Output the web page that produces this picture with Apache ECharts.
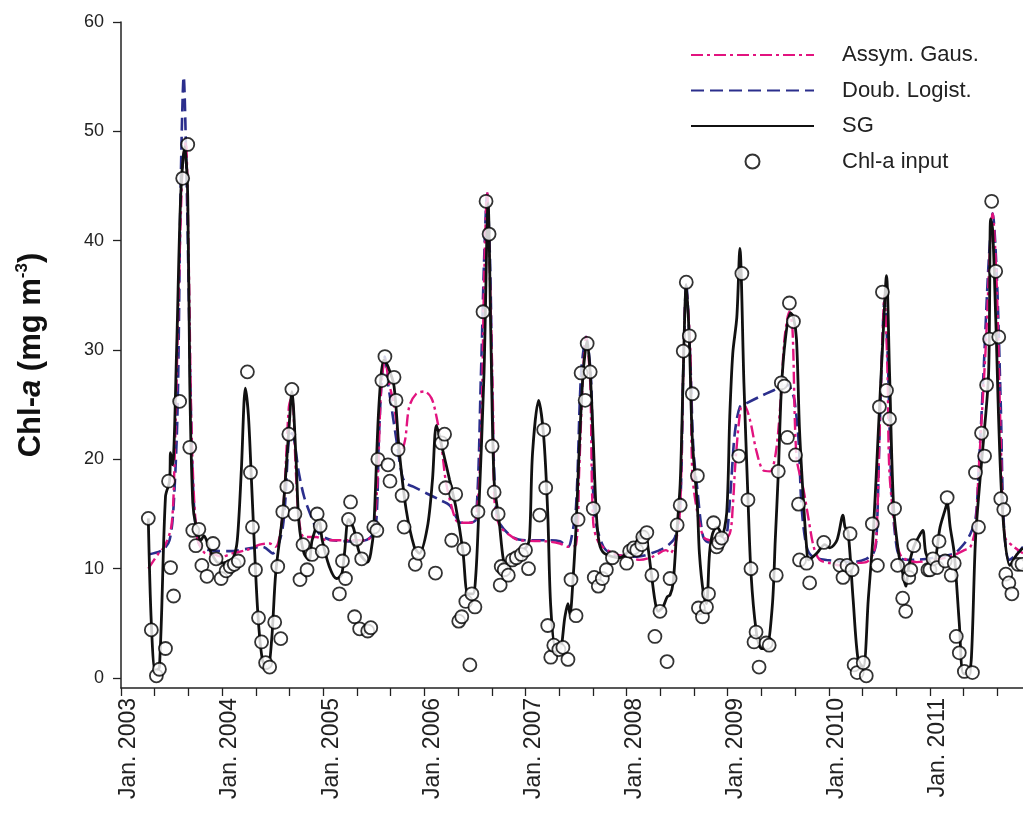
<!DOCTYPE html>
<html><head><meta charset="utf-8">
<script src="https://cdn.jsdelivr.net/npm/echarts@6/dist/echarts.min.js"></script>
<style>html,body{margin:0;padding:0;background:#fff}#c{width:1023px;height:814px}</style>
</head><body><div id="c"></div>
<script>
const yearTicks = [2003,2004,2005,2006,2007,2008,2009,2010,2011];
const yTicks = [0,10,20,30,40,50,60];

const chlInput = [
[2003.27,14.6],[2003.30,4.4],[2003.35,0.2],[2003.38,0.8],[2003.44,2.7],[2003.47,18.0],[2003.49,10.1],[2003.52,7.5],[2003.58,25.3],[2003.61,45.7],[2003.66,48.8],[2003.68,21.1],[2003.71,13.5],[2003.74,12.1],[2003.77,13.6],[2003.80,10.3],[2003.85,9.3],[2003.91,12.3],[2003.94,10.9],[2003.99,9.1],
[2004.04,9.8],[2004.08,10.2],[2004.12,10.4],[2004.16,10.7],[2004.25,28.0],[2004.28,18.8],[2004.30,13.8],[2004.33,9.9],[2004.36,5.5],[2004.39,3.3],[2004.43,1.4],[2004.47,1.0],[2004.52,5.1],[2004.55,10.2],[2004.58,3.6],[2004.60,15.2],[2004.64,17.5],[2004.66,22.3],[2004.69,26.4],[2004.72,15.0],[2004.77,9.0],[2004.80,12.2],[2004.84,9.9],[2004.89,11.3],[2004.94,15.0],[2004.97,13.9],[2004.99,11.6],
[2005.16,7.7],[2005.19,10.7],[2005.22,9.1],[2005.25,14.5],[2005.27,16.1],[2005.31,5.6],[2005.33,12.7],[2005.36,4.5],[2005.38,10.9],[2005.44,4.3],[2005.47,4.6],[2005.50,13.8],[2005.53,13.5],[2005.54,20.0],[2005.58,27.2],[2005.61,29.4],[2005.64,19.5],[2005.66,18.0],[2005.70,27.5],[2005.72,25.4],[2005.74,20.9],[2005.78,16.7],[2005.80,13.8],[2005.91,10.4],[2005.94,11.4],
[2006.11,9.6],[2006.17,21.5],[2006.20,22.3],[2006.21,17.4],[2006.27,12.6],[2006.31,16.8],[2006.34,5.2],[2006.37,5.6],[2006.39,11.8],[2006.41,7.0],[2006.45,1.2],[2006.47,7.7],[2006.50,6.5],[2006.53,15.2],[2006.58,33.5],[2006.61,43.6],[2006.64,40.6],[2006.67,21.2],[2006.69,17.0],[2006.73,15.0],[2006.75,8.5],[2006.76,10.2],[2006.79,9.9],[2006.83,9.4],[2006.87,10.8],[2006.91,11.0],[2006.96,11.3],
[2007.00,11.7],[2007.03,10.0],[2007.14,14.9],[2007.18,22.7],[2007.20,17.4],[2007.22,4.8],[2007.25,1.9],[2007.28,3.0],[2007.33,2.6],[2007.37,2.8],[2007.42,1.7],[2007.45,9.0],[2007.50,5.7],[2007.52,14.5],[2007.55,27.9],[2007.59,25.4],[2007.61,30.6],[2007.64,28.0],[2007.67,15.5],[2007.68,9.2],[2007.72,8.4],[2007.76,9.1],[2007.80,9.9],[2007.86,11.0],
[2008.00,10.5],[2008.03,11.6],[2008.07,11.9],[2008.10,11.7],[2008.15,12.2],[2008.16,12.9],[2008.20,13.3],[2008.25,9.4],[2008.28,3.8],[2008.33,6.1],[2008.40,1.5],[2008.43,9.1],[2008.50,14.0],[2008.53,15.8],[2008.56,29.9],[2008.59,36.2],[2008.62,31.3],[2008.65,26.0],[2008.70,18.5],[2008.71,6.4],[2008.75,5.6],[2008.79,6.5],[2008.81,7.7],[2008.86,14.2],[2008.89,12.0],[2008.91,12.4],[2008.94,12.8],
[2009.11,20.3],[2009.14,37.0],[2009.20,16.3],[2009.23,10.0],[2009.26,3.3],[2009.28,4.2],[2009.31,1.0],[2009.38,3.2],[2009.41,3.0],[2009.48,9.4],[2009.50,18.9],[2009.53,27.0],[2009.56,26.7],[2009.59,22.0],[2009.61,34.3],[2009.65,32.6],[2009.67,20.4],[2009.70,15.9],[2009.71,10.8],[2009.78,10.5],[2009.81,8.7],[2009.95,12.4],
[2010.11,10.3],[2010.14,9.2],[2010.18,10.3],[2010.21,13.2],[2010.23,9.9],[2010.25,1.2],[2010.28,0.5],[2010.34,1.4],[2010.37,0.2],[2010.43,14.1],[2010.48,10.3],[2010.50,24.8],[2010.53,35.3],[2010.57,26.3],[2010.60,23.7],[2010.65,15.5],[2010.68,10.3],[2010.73,7.3],[2010.76,6.1],[2010.79,9.2],[2010.81,9.9],[2010.84,12.1],[2010.98,9.9],
[2011.00,9.9],[2011.03,10.9],[2011.07,10.1],[2011.09,12.5],[2011.15,10.7],[2011.17,16.5],[2011.21,9.4],[2011.24,10.5],[2011.26,3.8],[2011.29,2.3],[2011.34,0.6],[2011.42,0.5],[2011.45,18.8],[2011.48,13.8],[2011.51,22.4],[2011.54,20.3],[2011.56,26.8],[2011.59,31.0],[2011.61,43.6],[2011.65,37.2],[2011.68,31.2],[2011.70,16.4],[2011.73,15.4],[2011.75,9.5],[2011.78,8.7],[2011.81,7.7],[2011.87,10.4],[2011.91,10.4]
];

const sgCurve = [
[2003.27,14.6],[2003.30,5.0],[2003.34,0.6],[2003.38,1.0],[2003.44,16.6],[2003.48,18.0],[2003.49,20.6],[2003.51,19.5],[2003.55,30],[2003.59,44],[2003.63,48.6],[2003.66,44],[2003.68,27],[2003.71,16],[2003.74,14.0],[2003.79,12.6],[2003.82,13.0],[2003.85,12.5],[2003.89,11.5],[2003.97,10.5],
[2004.05,10.6],[2004.11,11.0],[2004.15,12.6],[2004.19,19],[2004.23,26.5],[2004.26,24],[2004.29,18.1],[2004.33,9.9],[2004.36,5.0],[2004.40,1.6],[2004.45,0.9],[2004.49,3.5],[2004.53,9.6],[2004.60,15.1],[2004.66,22.7],[2004.69,26.2],[2004.73,20.2],[2004.76,14.2],[2004.81,11.4],[2004.86,10.8],[2004.89,12.6],[2004.96,14.3],[2004.99,12.6],
[2005.06,10.2],[2005.13,9.1],[2005.18,9.4],[2005.21,11.4],[2005.25,14.5],[2005.30,13.7],[2005.36,11.4],[2005.44,10.6],[2005.47,11.4],[2005.50,13.8],[2005.55,24.8],[2005.60,29.1],[2005.64,28.5],[2005.70,26.7],[2005.75,20.9],[2005.82,15.4],[2005.90,12.0],[2005.95,11.4],
[2006.03,13.8],[2006.08,18.1],[2006.12,23.1],[2006.18,20.9],[2006.25,18.1],[2006.31,15.7],[2006.38,11.7],[2006.43,7.7],[2006.48,7.7],[2006.51,9.6],[2006.54,15.7],[2006.59,27.9],[2006.63,43.4],[2006.66,30],[2006.69,18],[2006.74,14.3],[2006.78,10.9],[2006.81,10.3],[2006.89,11.0],
[2007.01,12.0],[2007.04,12.8],[2007.07,20.6],[2007.13,25.4],[2007.18,22.1],[2007.22,15.1],[2007.25,6.5],[2007.30,2.6],[2007.34,2.6],[2007.39,5.6],[2007.42,6.8],[2007.44,5.8],[2007.47,9.0],[2007.50,13.8],[2007.53,20.6],[2007.57,27.9],[2007.61,30.8],[2007.64,27.9],[2007.67,21.8],[2007.70,15.1],[2007.73,12.3],[2007.78,11.4],[2007.93,11.0],
[2008.00,11.4],[2008.10,12.5],[2008.16,13.4],[2008.19,13.2],[2008.24,9.9],[2008.28,7.1],[2008.31,6.1],[2008.36,6.5],[2008.40,7.4],[2008.43,7.6],[2008.46,8.7],[2008.49,12.6],[2008.53,17.8],[2008.56,27.9],[2008.59,36.0],[2008.62,31],[2008.65,21.8],[2008.70,15.7],[2008.72,11.4],[2008.76,7.7],[2008.79,6.8],[2008.82,11.4],[2008.85,13.2],[2008.89,13.8],[2008.92,13.5],[2008.94,12.9],[2008.99,15.1],
[2009.02,23.9],[2009.05,29.7],[2009.09,33],[2009.12,39.3],[2009.16,27],[2009.20,16.5],[2009.23,9.6],[2009.28,4.4],[2009.33,2.7],[2009.38,2.7],[2009.44,6.5],[2009.47,12.6],[2009.50,18.7],[2009.53,26.3],[2009.57,31],[2009.62,33.4],[2009.65,33.0],[2009.68,31],[2009.71,22.7],[2009.75,16],[2009.78,12.0],[2009.80,10.8],[2009.88,11.4],[2009.96,12.2],
[2010.01,11.9],[2010.08,12.6],[2010.14,14.9],[2010.16,13.8],[2010.19,13.4],[2010.24,7.2],[2010.29,1.6],[2010.34,1.0],[2010.39,7.2],[2010.44,13.4],[2010.49,22.7],[2010.54,32],[2010.57,36.8],[2010.60,28],[2010.64,15.7],[2010.69,11.4],[2010.73,9.6],[2010.76,8.4],[2010.79,10.2],[2010.84,12.0],[2010.90,13.1],[2010.93,13.5],[2010.96,11.4],
[2011.03,10.2],[2011.10,13.8],[2011.15,15.4],[2011.17,16.0],[2011.20,13.8],[2011.24,11.4],[2011.29,5.0],[2011.33,0.4],[2011.38,0.4],[2011.41,1.9],[2011.45,12.6],[2011.50,18.7],[2011.53,21.8],[2011.58,27.9],[2011.60,42.0],[2011.62,41],[2011.65,33],[2011.71,16.5],[2011.79,10.3],[2011.86,11.3],[2011.92,11.9]
];

const doubLogist = [
[2003.27,11.3],[2003.41,11.7],[2003.48,12.6],[2003.52,15.7],[2003.56,24.8],[2003.59,45],[2003.62,55],[2003.65,45],[2003.69,25],[2003.72,16.1],[2003.77,12.3],[2003.87,11.7],
[2004.07,11.6],[2004.30,11.9],[2004.40,12.0],[2004.50,11.4],[2004.60,13.8],[2004.66,21.8],[2004.69,22.4],[2004.76,18.7],[2004.81,16.6],[2004.88,14.8],[2004.96,13.2],
[2005.09,12.6],[2005.36,12.5],[2005.46,12.8],[2005.52,13.8],[2005.55,21.8],[2005.58,27.5],[2005.61,29.4],[2005.64,27],[2005.72,22],[2005.78,18.5],[2005.82,17.8],[2005.89,17.5],
[2006.02,16.9],[2006.15,16.3],[2006.25,15.8],[2006.31,14.8],[2006.36,14.2],[2006.45,14.2],[2006.51,14.5],[2006.56,27.9],[2006.59,38],[2006.62,44.3],[2006.65,38],[2006.68,22],[2006.71,15.5],[2006.74,14.2],[2006.87,12.9],
[2007.01,12.6],[2007.21,12.6],[2007.34,12.5],[2007.42,12.0],[2007.45,12.6],[2007.50,15.7],[2007.55,27.9],[2007.60,31.2],[2007.65,27],[2007.68,15.1],[2007.77,12.0],[2007.87,11.3],
[2008.10,11.1],[2008.33,11.7],[2008.43,12.3],[2008.48,12.9],[2008.53,15.7],[2008.56,28],[2008.59,36],[2008.63,29],[2008.66,21],[2008.70,17.2],[2008.75,13.2],[2008.79,12.5],[2008.89,12.3],[2008.97,12.6],
[2009.00,13.8],[2009.04,18.7],[2009.07,22.4],[2009.12,24.8],[2009.18,25.1],[2009.31,25.7],[2009.45,26.3],[2009.55,26.7],[2009.60,26.8],[2009.63,26.3],[2009.66,25.4],[2009.70,21.8],[2009.73,15.7],[2009.78,12.0],[2009.84,11.1],[2009.98,10.8],
[2010.24,10.6],[2010.37,10.9],[2010.44,11.4],[2010.47,12.6],[2010.50,21.8],[2010.53,31],[2010.55,34.5],[2010.58,30],[2010.62,17.2],[2010.67,12.0],[2010.72,10.9],[2010.84,10.8],
[2011.10,11.1],[2011.24,11.4],[2011.34,12.3],[2011.40,13.2],[2011.45,14.5],[2011.48,18.7],[2011.53,28],[2011.58,38],[2011.62,42.5],[2011.66,37],[2011.70,25],[2011.73,14.2],[2011.78,10.8],[2011.83,11.1],[2011.92,12.0]
];

const assymGaus = [
[2003.27,10.0],[2003.38,11.5],[2003.43,12.0],[2003.50,14],[2003.53,20],[2003.57,35],[2003.61,47],[2003.64,49],[2003.67,38],[2003.70,22],[2003.75,13],[2003.82,11.5],[2003.92,11.3],
[2004.00,11.1],[2004.10,11.4],[2004.24,11.7],[2004.37,12.2],[2004.47,12.3],[2004.53,12.0],[2004.60,15.1],[2004.66,24.8],[2004.69,25.8],[2004.73,18.7],[2004.76,14.5],[2004.81,12.9],[2004.93,12.9],
[2005.03,12.6],[2005.42,12.6],[2005.49,13.2],[2005.54,18.7],[2005.57,26],[2005.61,29.2],[2005.65,27],[2005.70,25],[2005.77,20.6],[2005.81,21.8],[2005.85,24.8],[2005.92,26.0],
[2006.00,26.2],[2006.07,25.6],[2006.12,23.9],[2006.17,21.2],[2006.21,18.1],[2006.26,16.0],[2006.31,14.5],[2006.35,14.2],[2006.45,14.2],[2006.51,14.5],[2006.56,21.8],[2006.59,36],[2006.62,44.5],[2006.65,36],[2006.68,24],[2006.69,16.8],[2006.74,14.0],[2006.87,12.9],[2006.94,12.6],
[2007.21,12.5],[2007.34,12.3],[2007.42,12.0],[2007.50,12.2],[2007.53,18.7],[2007.57,28],[2007.60,31.2],[2007.64,27],[2007.67,14.2],[2007.73,12.3],[2007.87,11.4],
[2008.00,11.1],[2008.13,10.8],[2008.26,11.1],[2008.39,11.7],[2008.43,11.4],[2008.49,12.6],[2008.53,15.7],[2008.56,28],[2008.59,35.5],[2008.63,30],[2008.65,18.7],[2008.70,15.1],[2008.76,12.9],[2008.82,12.6],[2008.94,12.5],
[2009.02,13.2],[2009.05,15.7],[2009.08,20.2],[2009.13,24.8],[2009.16,25.0],[2009.22,23.6],[2009.28,20.9],[2009.35,19.0],[2009.42,18.9],[2009.48,20.9],[2009.53,26.3],[2009.56,30.9],[2009.61,33.5],[2009.64,32],[2009.68,20.2],[2009.75,17.2],[2009.80,14.5],[2009.85,12.0],[2009.91,10.8],
[2010.01,10.5],[2010.11,10.3],[2010.24,10.5],[2010.37,10.6],[2010.44,11.4],[2010.47,12.9],[2010.50,21.8],[2010.53,31],[2010.55,35],[2010.58,28],[2010.60,18.7],[2010.67,12.6],[2010.72,11.1],[2010.87,10.6],
[2011.03,10.8],[2011.20,11.1],[2011.34,11.7],[2011.40,12.0],[2011.45,13.8],[2011.48,18.7],[2011.55,30],[2011.62,42.5],[2011.66,36],[2011.70,22],[2011.74,12.9],[2011.83,12.0],[2011.92,11.4]
];

const FONT = 'Liberation Sans';
const xTickVals = [];
yearTicks.forEach(function (y) { xTickVals.push(y, y + 1/3, y + 2/3); });

const chart = echarts.init(document.getElementById('c'), null, {renderer: 'canvas'});
chart.setOption({
  animation: false,
  backgroundColor: '#fff',
  grid: {left: 121, right: 0, top: 22, bottom: 126, containLabel: false},
  legend: {
    orient: 'vertical', left: 685, top: 39,
    itemWidth: 123, itemHeight: 14, itemGap: 13.5,
    data: [
      {name: 'Assym. Gaus.', itemStyle: {opacity: 0}},
      {name: 'Doub. Logist.', itemStyle: {opacity: 0}},
      {name: 'SG', itemStyle: {opacity: 0}},
      {name: 'Chl-a input'}
    ],
    textStyle: {fontFamily: FONT, fontSize: 22, color: '#222', padding: [0, 0, 0, 23]}
  },
  xAxis: {
    type: 'value', min: 2003, max: 2011.92, interval: 1,
    axisLine: {onZero: false, lineStyle: {color: '#222', width: 1.5}},
    axisTick: {customValues: xTickVals, length: 8, lineStyle: {color: '#222', width: 1.3}},
    axisLabel: {
      customValues: yearTicks, rotate: 90, verticalAlign: 'top', margin: 10,
      fontFamily: FONT, fontSize: 23, color: '#222', lineHeight: 16,
      formatter: function (v) { return 'Jan. ' + Math.round(v); }
    },
    splitLine: {show: false}
  },
  yAxis: {
    type: 'value', min: -0.915, max: 60,
    axisLine: {show: true, onZero: false, lineStyle: {color: '#222', width: 1.5}},
    axisTick: {show: true, customValues: yTicks, length: 8, lineStyle: {color: '#222', width: 1.3}},
    axisLabel: {customValues: yTicks, margin: 17, fontFamily: FONT, fontSize: 18, color: '#222'},
    splitLine: {show: false},
    name: '{b|Chl-}{bi|a}{b| (mg m}{s|-3}{b|)}',
    nameLocation: 'middle', nameRotate: 90, nameGap: 73,
    nameTextStyle: {
      rich: {
        b: {fontFamily: FONT, fontWeight: 'bold', fontSize: 31, color: '#111', lineHeight: 34},
        bi: {fontFamily: FONT, fontWeight: 'bold', fontStyle: 'italic', fontSize: 31, color: '#111', lineHeight: 34},
        s: {fontFamily: FONT, fontWeight: 'bold', fontSize: 17, color: '#111', verticalAlign: 'top', lineHeight: 34}
      }
    }
  },
  series: [
    {name: 'Doub. Logist.', type: 'line', data: doubLogist, symbol: 'none', smooth: 0.3, z: 2,
     itemStyle: {color: '#2b2e8c'}, lineStyle: {color: '#2b2e8c', width: 2.6, type: [13, 6]}},
    {name: 'Assym. Gaus.', type: 'line', data: assymGaus, symbol: 'none', smooth: 0.3, z: 3,
     itemStyle: {color: '#e2137f'}, lineStyle: {color: '#e2137f', width: 2.4, type: [12, 4, 3, 4]}},
    {name: 'SG', type: 'line', data: sgCurve, symbol: 'none', smooth: 0.3, z: 4,
     itemStyle: {color: '#111'}, lineStyle: {color: '#111', width: 2.8}},
    {name: 'Chl-a input', type: 'scatter', data: chlInput, symbol: 'circle', symbolSize: 13, z: 5,
     itemStyle: {color: '#fff', borderColor: '#000', borderWidth: 1.8}}
  ]
});
</script>
</body></html>
